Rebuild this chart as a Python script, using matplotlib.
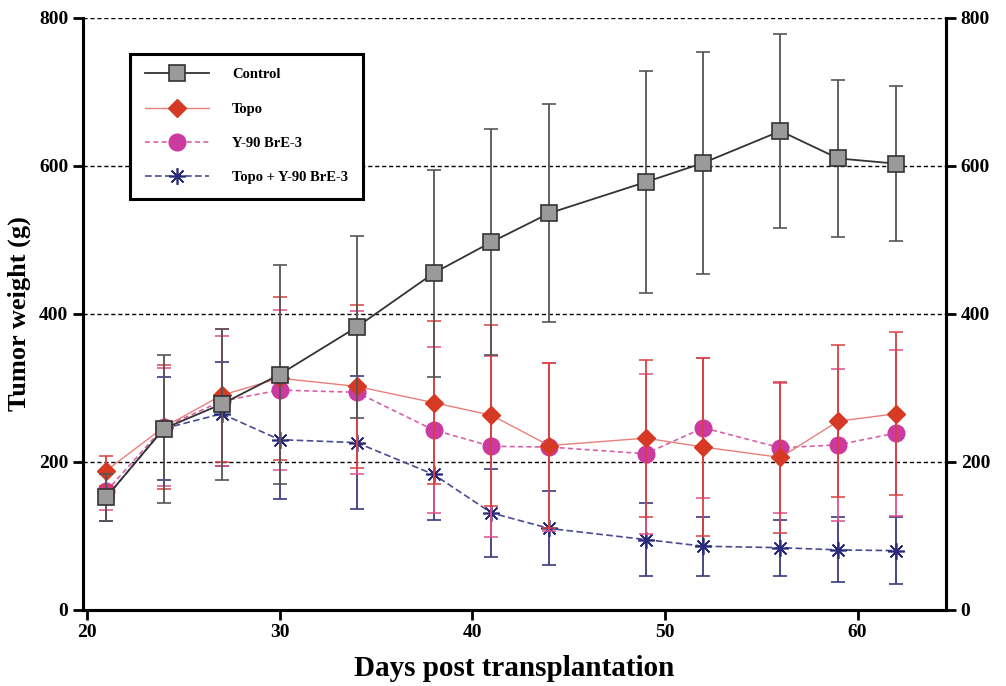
import numpy as np
import matplotlib as mpl
import matplotlib.pyplot as plt
from matplotlib.lines import Line2D

mpl.rc('font', family='Liberation Serif', weight='bold')

days = [21, 24, 27, 30, 34, 38, 41, 44, 49, 52, 56, 59, 62]

control = [152, 245, 278, 318, 382, 455, 497, 536, 578, 604, 647, 610, 603]
control_err = [32, 100, 102, 148, 123, 140, 153, 147, 150, 150, 131, 106, 105]

topo = [188, 247, 290, 313, 302, 280, 263, 222, 232, 220, 206, 255, 265]
topo_err = [20, 84, 90, 110, 110, 110, 122, 112, 106, 120, 102, 103, 110]

y90 = [160, 247, 282, 297, 294, 243, 221, 220, 211, 246, 219, 223, 239]
y90_err = [25, 80, 88, 108, 110, 112, 122, 114, 108, 95, 88, 103, 112]

combo = [152, 245, 265, 230, 226, 183, 131, 110, 95, 86, 84, 81, 80]
combo_err = [32, 70, 70, 80, 90, 62, 60, 50, 49, 40, 38, 44, 45]

yticks = [0, 200, 400, 600, 800]
xticks = [20, 30, 40, 50, 60]

fig = plt.figure(figsize=(10.06, 6.86), dpi=100)
ax = fig.add_axes([0.0825, 0.111, 0.858, 0.863])

# Gitterlinien
for yv in yticks[1:]:
    ax.axhline(yv, color='black', linestyle=(0, (3, 2)), linewidth=1.0, zorder=0)

styles = [
    dict(color='#333333', linewidth=1.3, marker='s', markersize=11,
         markerfacecolor='#9a9a9a', markeredgecolor='#333333', markeredgewidth=1.2),
    dict(color='#e8807a', linewidth=1.0, marker='D', markersize=9,
         markerfacecolor='#d63a25', markeredgecolor='#d63a25'),
    dict(color='#d860a8', linewidth=1.2, linestyle=(0, (3, 2)), marker='o', markersize=12,
         markerfacecolor='#cc3aa0', markeredgecolor='#cc3aa0'),
    dict(color='#4a4a90', linewidth=1.2, linestyle=(0, (4, 2)), marker=(8, 2, 0),
         markersize=12, markeredgecolor='#2a2a7a', markeredgewidth=1.2),
]
labels = ['Control', 'Topo', 'Y-90 BrE-3', 'Topo + Y-90 BrE-3']
ecolors = ['#555555', '#d84040', '#e0508a', '#3a3a80']
series = [(control, control_err), (topo, topo_err), (y90, y90_err), (combo, combo_err)]

for k, ((vals, err), st, ec) in enumerate(zip(series, styles, ecolors)):
    ax.errorbar(days, vals, yerr=err, ecolor=ec, elinewidth=1.3, capsize=5,
                capthick=1.1, zorder=6 - k, **st)

ax.set_xlim(19.8, 64.6)
ax.set_ylim(0, 800)
ax.set_xticks(xticks)
ax.set_yticks(yticks)

ax2 = ax.twinx()
ax2.set_ylim(0, 800)
ax2.set_yticks(yticks)

for a in (ax, ax2):
    a.spines['top'].set_visible(False)
    for s in ('left', 'right', 'bottom'):
        a.spines[s].set_linewidth(2.2)
    a.tick_params(width=2, length=7, labelsize=14)

ax.set_xlabel('Days post transplantation', fontsize=21, fontweight='bold', labelpad=10)
ax.set_ylabel('Tumor weight (g)', fontsize=19, fontweight='bold', labelpad=6)

handles = [Line2D([], [], **st) for st in styles]
leg = ax.legend(handles, labels, loc='upper left', bbox_to_anchor=(0.046, 0.952), fontsize=10.5,
                fancybox=False, edgecolor='black', framealpha=1, borderpad=1.0,
                labelspacing=1.45, handlelength=4.4, handletextpad=1.6)
leg.get_frame().set_linewidth(2.2)

fig.savefig('out.png', dpi=100)
